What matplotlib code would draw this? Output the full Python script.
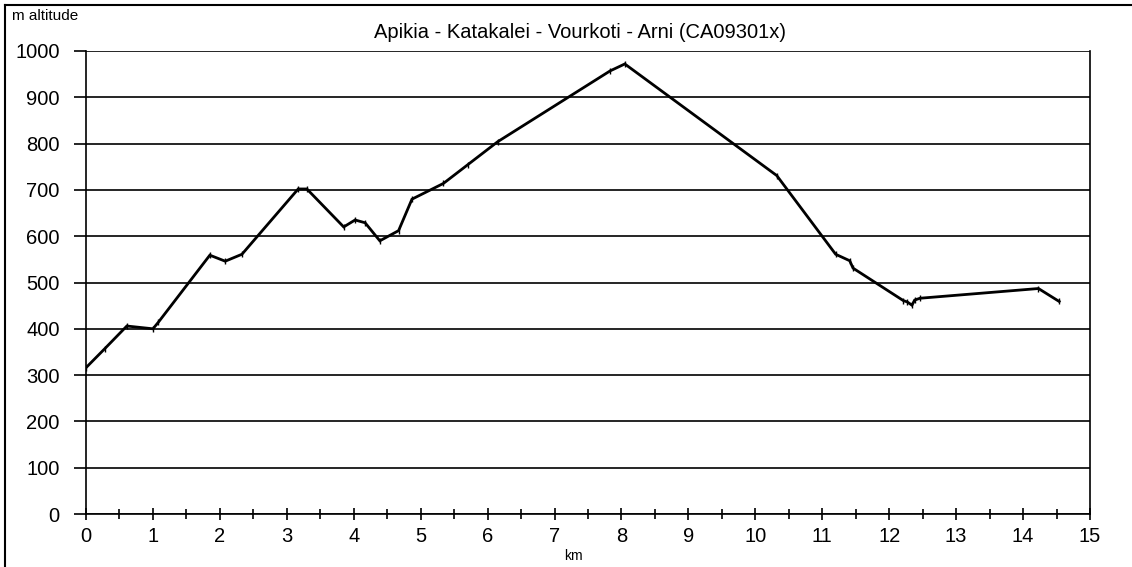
"""Altitude profile of the Apikia - Arni walk."""

import matplotlib
matplotlib.use("Agg")
from matplotlib import pyplot as plt
from matplotlib.lines import Line2D
from matplotlib.ticker import MultipleLocator

plt.rcParams['font.family'] = ['Liberation Sans', 'DejaVu Sans']

km = [0.0, 0.28, 0.61, 1.0, 1.08, 1.85, 2.08, 2.33, 3.17, 3.3, 3.85, 4.02,
      4.17, 4.39, 4.67, 4.87, 5.34, 5.70, 6.15, 7.83, 8.05, 10.32, 11.2,
      11.41, 11.46, 12.21, 12.27, 12.34, 12.38, 12.46, 14.23, 14.54]
altitude = [316, 357, 406, 400, 414, 559, 546, 561, 702, 702, 620, 635,
            629, 590, 612, 680, 714, 754, 804, 957, 972, 731, 561,
            547, 531, 461, 458, 451, 462, 466, 487, 459]

title = "Apikia - Katakalei - Vourkoti - Arni (CA09301x)"

fig = plt.figure(figsize=(11.32, 5.67), dpi=100)
ax = fig.add_axes([86 / 1132, 1 - 514 / 567, 1004 / 1132, 463 / 567])

ax.plot(km, altitude, color='black', linewidth=2, marker='|',
        markersize=4, markeredgewidth=1.0, solid_joinstyle='miter')

ax.set_xlim(0, 15)
ax.set_ylim(0, 1000)
ax.xaxis.set_major_locator(MultipleLocator(1))
ax.xaxis.set_minor_locator(MultipleLocator(0.5))
ax.yaxis.set_major_locator(MultipleLocator(100))
ax.grid(axis='y', color='black', linewidth=1.2)
ax.set_axisbelow(True)

for side in ('left', 'bottom', 'right'):
    ax.spines[side].set_linewidth(1.2)
ax.spines['top'].set_visible(False)

ax.tick_params(axis='x', which='major', direction='inout', length=9,
               width=1.2, labelsize=14.5, pad=5)
ax.tick_params(axis='x', which='minor', direction='inout', length=7,
               width=1.2)
ax.tick_params(axis='y', which='major', direction='out', length=9,
               width=1.2, labelsize=14.5, pad=10)

ax.set_xlabel("km", fontsize=10)
ax.xaxis.set_label_coords((573 - 86) / 1004, -0.075)

fig.text(580 / 1132, 1 - 32 / 567, title, fontsize=14.5,
         ha='center', va='center')
fig.text(12 / 1132, 1 - 16 / 567, "m altitude", fontsize=11,
         ha='left', va='center')

# chart border, only top and left edges show
fig.add_artist(Line2D([5 / 1132, 1], [1 - 5 / 567, 1 - 5 / 567],
                      color='black', linewidth=1.5))
fig.add_artist(Line2D([5 / 1132, 5 / 1132], [0, 1 - 5 / 567],
                      color='black', linewidth=1.5))

fig.savefig("out.png", dpi=100)
